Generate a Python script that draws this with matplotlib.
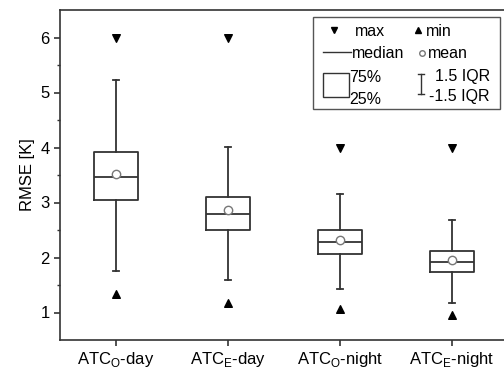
import matplotlib
matplotlib.use("Agg")
import matplotlib.pyplot as plt
from matplotlib.patches import Rectangle
from matplotlib.lines import Line2D

plt.rcParams['font.family'] = ['Liberation Sans', 'DejaVu Sans']
plt.rcParams['mathtext.fontset'] = 'custom'
plt.rcParams['mathtext.rm'] = 'Liberation Sans'

labels = [r'ATC$_\mathregular{O}$-day', r'ATC$_\mathregular{E}$-day',
          r'ATC$_\mathregular{O}$-night', r'ATC$_\mathregular{E}$-night']
whislo = [1.76, 1.60, 1.42, 1.17]
q1 = [3.05, 2.50, 2.07, 1.74]
med = [3.46, 2.79, 2.29, 1.92]
q3 = [3.92, 3.10, 2.50, 2.12]
whishi = [5.22, 4.01, 3.16, 2.68]
means = [3.51, 2.87, 2.31, 1.96]
maxs = [6.0, 6.0, 4.0, 4.0]
mins = [1.33, 1.18, 1.07, 0.95]

dark = '#333333'
stats = []
for i in range(len(labels)):
    stats.append(dict(label=labels[i], whislo=whislo[i], q1=q1[i], med=med[i],
                      q3=q3[i], whishi=whishi[i], mean=means[i], fliers=[]))

fig = plt.figure(figsize=(5.04, 3.73), dpi=100)
ax = fig.add_axes([60/504, 33/373, 448/504, 330/373])
pos = [1, 2, 3, 4]
ax.bxp(stats, positions=pos, widths=0.4, showmeans=True, patch_artist=False,
       boxprops=dict(color=dark, linewidth=1.3),
       medianprops=dict(color=dark, linewidth=1.3),
       whiskerprops=dict(color=dark, linewidth=1.3),
       capprops=dict(color=dark, linewidth=1.3), capwidths=0.05,
       meanprops=dict(marker='o', markerfacecolor='white', markeredgecolor='#777777',
                      markersize=6, markeredgewidth=1.0))
ax.scatter(pos, maxs, marker='v', color='black', s=30, zorder=3)
ax.scatter(pos, mins, marker='^', color='black', s=30, zorder=3)

ax.set_xlim(0.5, 4.5)
ax.set_ylim(0.5, 6.5)
ax.set_yticks([1, 2, 3, 4, 5, 6])
ax.set_yticks([1.5, 2.5, 3.5, 4.5, 5.5], minor=True)
ax.set_xticks(pos)
ax.set_xticklabels(labels)
ax.tick_params(axis='both', which='major', labelsize=12, length=4, width=1.2, color=dark)
ax.tick_params(axis='y', which='minor', length=2.5, width=1.0, color=dark)
ax.set_ylabel('RMSE [K]', fontsize=12, labelpad=4)
for s in ax.spines.values():
    s.set_linewidth(1.2)
    s.set_color(dark)


def px(x, y):
    return ((x - 60) / 448, (340 - y) / 330)


tr = ax.transAxes
x0, y0 = px(313, 109)
x1, y1 = px(500, 17)
ax.add_patch(Rectangle((x0, y0), x1 - x0, y1 - y0, transform=tr, fill=False,
                       edgecolor='#555555', linewidth=1.0, zorder=5))
fs = 11.5
ax.plot(*px(334, 30), marker='v', color='black', markersize=5, transform=tr, zorder=6)
ax.text(*px(355, 32), 'max', fontsize=fs, va='center', transform=tr)
ax.plot(*px(418, 30), marker='^', color='black', markersize=5, transform=tr, zorder=6)
ax.text(*px(426, 32), 'min', fontsize=fs, va='center', transform=tr)
a, b = px(323, 52), px(351, 52)
ax.add_line(Line2D([a[0], b[0]], [a[1], b[1]], color=dark, linewidth=1.0, transform=tr))
ax.text(*px(352, 54), 'median', fontsize=fs, va='center', transform=tr)
ax.plot(*px(422, 53), marker='o', markerfacecolor='white', markeredgecolor='#777777',
        markersize=4, transform=tr, zorder=6)
ax.text(*px(428, 54), 'mean', fontsize=fs, va='center', transform=tr)
bx0, by0 = px(323, 97)
bx1, by1 = px(349, 73)
ax.add_patch(Rectangle((bx0, by0), bx1 - bx0, by1 - by0, transform=tr, fill=False,
                       edgecolor=dark, linewidth=1.0, zorder=6))
ax.text(*px(349, 77), '75%', fontsize=fs, va='center', transform=tr)
ax.text(*px(349, 99), '25%', fontsize=fs, va='center', transform=tr)
t, bt = px(421, 74), px(421, 94)
ax.add_line(Line2D([t[0], bt[0]], [t[1], bt[1]], color=dark, linewidth=1.0, transform=tr))
for yy in (74, 94):
    l, r = px(418, yy), px(424, yy)
    ax.add_line(Line2D([l[0], r[0]], [l[1], r[1]], color=dark, linewidth=1.0, transform=tr))
ax.text(*px(435, 77), '1.5 IQR', fontsize=fs, va='center', transform=tr)
ax.text(*px(429, 96), '-1.5 IQR', fontsize=fs, va='center', transform=tr)

fig.savefig('out.png', dpi=100)
